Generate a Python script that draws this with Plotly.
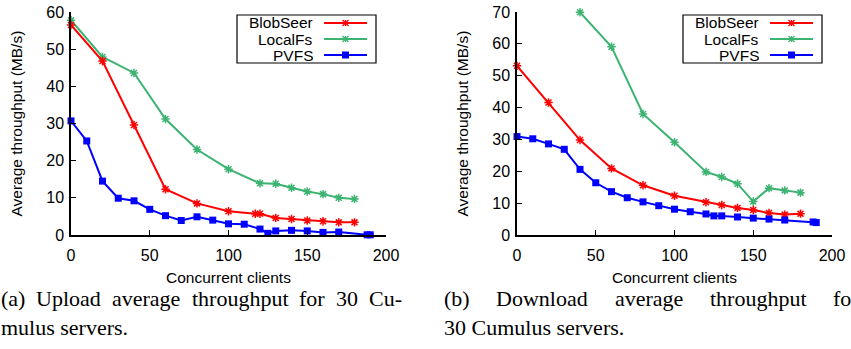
import plotly.graph_objects as go

W, H = 851, 349

# ---------------- data ----------------
up_blob_x = [0, 20, 40, 60, 80, 100, 117, 120, 130, 140, 150, 160, 170, 180]
up_blob_y = [56.5, 46.8, 29.6, 12.3, 8.5, 6.4, 5.7, 5.7, 4.6, 4.3, 3.9, 3.7, 3.4, 3.4]

up_local_x = [0, 20, 40, 60, 80, 100, 120, 130, 140, 150, 160, 170, 180]
up_local_y = [57.8, 47.9, 43.6, 31.2, 23.0, 17.7, 13.9, 13.8, 12.7, 11.7, 11.0, 10.0, 9.7]

up_pvfs_x = [0, 10, 20, 30, 40, 50, 60, 70, 80, 90, 100, 110, 120, 125, 130, 140, 150, 160, 170, 188, 190]
up_pvfs_y = [30.7, 25.3, 14.5, 9.9, 9.2, 6.9, 5.2, 3.9, 4.9, 4.0, 3.0, 2.9, 1.6, 0.45, 1.1, 1.25, 1.1, 0.7, 0.8, 0.05, 0.05]

dn_blob_x = [0, 20, 40, 60, 80, 100, 120, 130, 140, 150, 160, 170, 180]
dn_blob_y = [53.1, 41.6, 29.8, 20.9, 15.6, 12.3, 10.3, 9.4, 8.5, 7.85, 6.9, 6.4, 6.7]

dn_local_x = [40, 60, 80, 100, 120, 130, 140, 150, 160, 170, 180]
dn_local_y = [69.9, 59.1, 38.0, 29.1, 19.8, 18.2, 16.1, 10.5, 14.7, 14.0, 13.3]

dn_pvfs_x = [0, 10, 20, 30, 40, 50, 60, 70, 80, 90, 100, 110, 120, 125, 130, 140, 150, 160, 170, 188, 190]
dn_pvfs_y = [30.9, 30.2, 28.6, 26.9, 20.6, 16.4, 13.6, 11.7, 10.4, 9.2, 8.1, 7.3, 6.6, 6.0, 6.0, 5.65, 5.3, 5.0, 4.7, 4.1, 3.9]

series_names = ["BlobSeer", "LocalFs", "PVFS"]
series_colors = ["#ff0000", "#3cb371", "#0000ff"]

x_ticks = [0, 50, 100, 150, 200]
y_ticks_up = [0, 10, 20, 30, 40, 50, 60]
y_ticks_dn = [0, 10, 20, 30, 40, 50, 60, 70]

x_title = "Concurrent clients"
y_title = "Average throughput (MB/s)"

cap_a_line1 = ["(a)", "Upload", "average", "throughput", "for", "30", "Cu-"]
cap_a_line2 = "mulus servers."
cap_b_line1 = ["(b)", "Download", "average", "throughput", "for"]
cap_b_line2 = "30 Cumulus servers."

# ---------------- layout helpers ----------------
def px(x):
    return x / W

def py(y):
    return 1 - y / H

SANS = "Liberation Sans, Arial, sans-serif"
SERIF = "Liberation Serif, Times New Roman, serif"

AX_L = (71, 386)
AX_R = (517, 832)
AX_TOP, AX_BOT = 12, 235

fig = go.Figure()

def add_series(xs, ys, name, color, xa, ya, square):
    if square:
        marker = dict(symbol="square", size=7, color=color)
    else:
        marker = dict(symbol="asterisk", size=7, color=color,
                      line=dict(width=1.5, color=color))
    fig.add_trace(go.Scatter(x=xs, y=ys, mode="lines+markers", name=name,
                             line=dict(color=color, width=2), marker=marker,
                             xaxis=xa, yaxis=ya, cliponaxis=False,
                             showlegend=False))

add_series(up_local_x, up_local_y, series_names[1], series_colors[1], "x", "y", False)
add_series(up_blob_x, up_blob_y, series_names[0], series_colors[0], "x", "y", False)
add_series(up_pvfs_x, up_pvfs_y, series_names[2], series_colors[2], "x", "y", True)
add_series(dn_local_x, dn_local_y, series_names[1], series_colors[1], "x2", "y2", False)
add_series(dn_blob_x, dn_blob_y, series_names[0], series_colors[0], "x2", "y2", False)
add_series(dn_pvfs_x, dn_pvfs_y, series_names[2], series_colors[2], "x2", "y2", True)

axis_common = dict(showgrid=False, zeroline=False, showline=True, linecolor="black",
                   linewidth=1.5, ticks="inside", ticklen=5, tickwidth=1,
                   tickcolor="black", tickfont=dict(family=SANS, size=16, color="black"),
                   mirror=False, fixedrange=True)

fig.update_layout(
    width=W, height=H, margin=dict(l=0, r=0, t=0, b=0, autoexpand=False),
    paper_bgcolor="white", plot_bgcolor="white",
    showlegend=False,
    xaxis=dict(domain=[px(AX_L[0]), px(AX_L[1])], range=[0, 200], tickvals=x_ticks,
               anchor="y", ticklabelstandoff=5, **axis_common),
    yaxis=dict(domain=[py(AX_BOT), py(AX_TOP)], range=[0, 60], tickvals=y_ticks_up,
               anchor="x", ticklabelstandoff=2, **axis_common),
    xaxis2=dict(domain=[px(AX_R[0]), px(AX_R[1])], range=[0, 200], tickvals=x_ticks,
                anchor="y2", ticklabelstandoff=5, **axis_common),
    yaxis2=dict(domain=[py(AX_BOT), py(AX_TOP)], range=[0, 70], tickvals=y_ticks_dn,
                anchor="x2", ticklabelstandoff=2, **axis_common),
)

annotations = []
shapes = []

# axis titles
for ax in (AX_L, AX_R):
    cx = (ax[0] + ax[1]) / 2
    annotations.append(dict(x=px(cx), y=py(277), xref="paper", yref="paper",
                            text=x_title, showarrow=False, xanchor="center", yanchor="middle",
                            font=dict(family=SANS, size=15.5, color="black")))
    annotations.append(dict(x=px(ax[0] - 55), y=py((AX_TOP + AX_BOT) / 2), xref="paper",
                            yref="paper", text=y_title, showarrow=False, textangle=-90,
                            xanchor="center", yanchor="middle",
                            font=dict(family=SANS, size=15.5, color="black")))

# custom legends (gnuplot style: text right, sample on the right)
for ax in (AX_L, AX_R):
    off = ax[0] - AX_L[0]
    shapes.append(dict(type="rect", xref="paper", yref="paper",
                       x0=px(237 + off), x1=px(376 + off), y0=py(63), y1=py(15),
                       line=dict(color="black", width=1.2), fillcolor="rgba(0,0,0,0)"))
    rows = [23, 39, 55]
    for i, (nm, col) in enumerate(zip(series_names, series_colors)):
        yy = rows[i]
        annotations.append(dict(x=px(314 + off), y=py(yy), xref="paper", yref="paper",
                                text=nm, showarrow=False, xanchor="right", yanchor="middle",
                                height=15, borderpad=0,
                                font=dict(family=SANS, size=15.5, color="black")))
        shapes.append(dict(type="line", xref="paper", yref="paper",
                           x0=px(324 + off), x1=px(367 + off), y0=py(yy), y1=py(yy),
                           line=dict(color=col, width=2)))
        mx = 345.5 + off
        if i == 2:
            shapes.append(dict(type="rect", xref="paper", yref="paper",
                               x0=px(mx - 3.5), x1=px(mx + 3.5), y0=py(yy + 3.5), y1=py(yy - 3.5),
                               line=dict(color=col, width=0), fillcolor=col))
        else:
            r = 3
            for (dx0, dy0, dx1, dy1) in [(-r, 0, r, 0), (0, -r, 0, r), (-r, -r, r, r), (-r, r, r, -r)]:
                shapes.append(dict(type="line", xref="paper", yref="paper",
                                   x0=px(mx + dx0), x1=px(mx + dx1),
                                   y0=py(yy + dy0), y1=py(yy + dy1),
                                   line=dict(color=col, width=1.3)))

# captions (justified, word by word, using Times-like advance widths)
TIMES = {' ': 250, '(': 333, ')': 333, 'a': 444, 'b': 500, 'c': 444, 'd': 500, 'e': 444,
         'f': 333, 'g': 500, 'h': 500, 'l': 278, 'm': 778, 'n': 500, 'o': 500, 'p': 500,
         'r': 333, 's': 389, 't': 278, 'u': 500, 'v': 500, 'w': 722, 'U': 722, 'D': 722,
         'C': 667, '-': 333, '3': 500, '0': 500, '.': 250}
CAP_SIZE = 22

def word_w(w):
    return sum(TIMES.get(c, 500) for c in w) / 1000 * CAP_SIZE

def justify(words, x0, x1):
    total = sum(word_w(w) for w in words)
    gap = (x1 - x0 - total) / (len(words) - 1)
    pos, x = [], x0
    for w in words:
        pos.append(x)
        x += word_w(w) + gap
    return pos

cap_font = dict(family=SERIF, size=CAP_SIZE, color="black")
LINE1_Y, LINE2_Y = 298, 327
A_X0, A_X1 = 0, 401
B_X0, B_X1 = 443, 858
for w, x in zip(cap_a_line1, justify(cap_a_line1, A_X0, A_X1)):
    annotations.append(dict(x=px(x), y=py(LINE1_Y), xref="paper", yref="paper", text=w,
                            showarrow=False, xanchor="left", yanchor="middle",
                            font=cap_font, borderpad=0))
for w, x in zip(cap_b_line1, justify(cap_b_line1, B_X0, B_X1)):
    annotations.append(dict(x=px(x), y=py(LINE1_Y), xref="paper", yref="paper", text=w,
                            showarrow=False, xanchor="left", yanchor="middle",
                            font=cap_font, borderpad=0))
annotations.append(dict(x=px(A_X0), y=py(LINE2_Y), xref="paper", yref="paper", text=cap_a_line2,
                        showarrow=False, xanchor="left", yanchor="middle",
                        font=cap_font, borderpad=0))
annotations.append(dict(x=px(B_X0), y=py(LINE2_Y), xref="paper", yref="paper", text=cap_b_line2,
                        showarrow=False, xanchor="left", yanchor="middle",
                        font=cap_font, borderpad=0))

fig.update_layout(annotations=annotations, shapes=shapes)

fig.write_html("out.html", config={"displayModeBar": False},
               post_script="document.body.style.margin='0';document.body.style.overflow='hidden';")
